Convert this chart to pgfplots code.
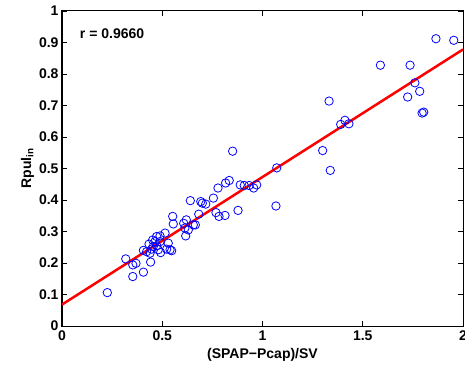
\documentclass[border=0pt]{standalone}
\usepackage{pgfplots}
\pgfplotsset{compat=1.18}
\usepackage{fontspec}
\setmainfont{Liberation Sans}
\pgfplotstableread{
x y
0.226 0.106
0.318 0.213
0.353 0.194
0.369 0.199
0.353 0.157
0.406 0.171
0.442 0.203
0.406 0.240
0.422 0.236
0.434 0.260
0.439 0.231
0.447 0.244
0.452 0.273
0.464 0.268
0.472 0.284
0.489 0.286
0.514 0.295
0.480 0.242
0.492 0.233
0.455 0.252
0.489 0.268
0.530 0.263
0.522 0.244
0.539 0.242
0.547 0.239
0.472 0.255
0.552 0.348
0.555 0.324
0.607 0.326
0.620 0.337
0.613 0.311
0.630 0.305
0.617 0.286
0.665 0.321
0.655 0.321
0.682 0.355
0.640 0.398
0.692 0.395
0.700 0.390
0.717 0.387
0.755 0.406
0.778 0.438
0.816 0.454
0.834 0.462
0.851 0.555
0.889 0.448
0.909 0.446
0.933 0.446
0.956 0.438
0.971 0.448
0.768 0.360
0.783 0.348
0.813 0.351
0.878 0.367
1.067 0.381
1.071 0.502
1.300 0.557
1.338 0.494
1.332 0.714
1.390 0.640
1.411 0.653
1.431 0.642
1.588 0.828
1.736 0.828
1.760 0.772
1.784 0.745
1.724 0.727
1.796 0.676
1.804 0.679
1.865 0.912
1.954 0.907
}\pts
\begin{document}
\begin{tikzpicture}[font=\fontsize{14}{16}\selectfont\bfseries]
\begin{axis}[
  scale only axis, width=401pt, height=315pt,
  xmin=0, xmax=2, ymin=0, ymax=1,
  xtick={0,0.5,1,1.5,2},
  ytick={0,0.1,0.2,0.3,0.4,0.5,0.6,0.7,0.8,0.9,1},
  tick align=inside, major tick length=5pt,
  tick style={black, line width=0.8pt},
  axis line style={black, line width=1pt},
  /pgf/number format/assume math mode=true,
  tick label style={font=\fontsize{14}{16}\selectfont\bfseries},
  xticklabel style={yshift=-1pt},
  xlabel={(SPAP−Pcap)/SV},
  ylabel={Rpul\textsubscript{in}},
  label style={font=\fontsize{14}{16}\selectfont\bfseries},
  xlabel style={yshift=-1pt},
  ylabel style={yshift=-2pt},
  clip=true,
]
\addplot[only marks, mark=o, mark size=4.2pt, blue, mark options={line width=0.8pt}] table[x=x,y=y] {\pts};
\addplot[red, line width=2.5pt] coordinates {(0,0.068) (2,0.878)};
\node[anchor=west, font=\fontsize{14}{16}\selectfont\bfseries] at (axis cs:0.072,0.928) {r = 0.9660};
\coordinate (bl) at (rel axis cs:0,0);
\coordinate (tr) at (rel axis cs:1,1);
\end{axis}
\pgfresetboundingbox
\path ([xshift=-62pt,yshift=-44pt]bl) rectangle ([xshift=2pt,yshift=11pt]tr);
\end{tikzpicture}
\end{document}
